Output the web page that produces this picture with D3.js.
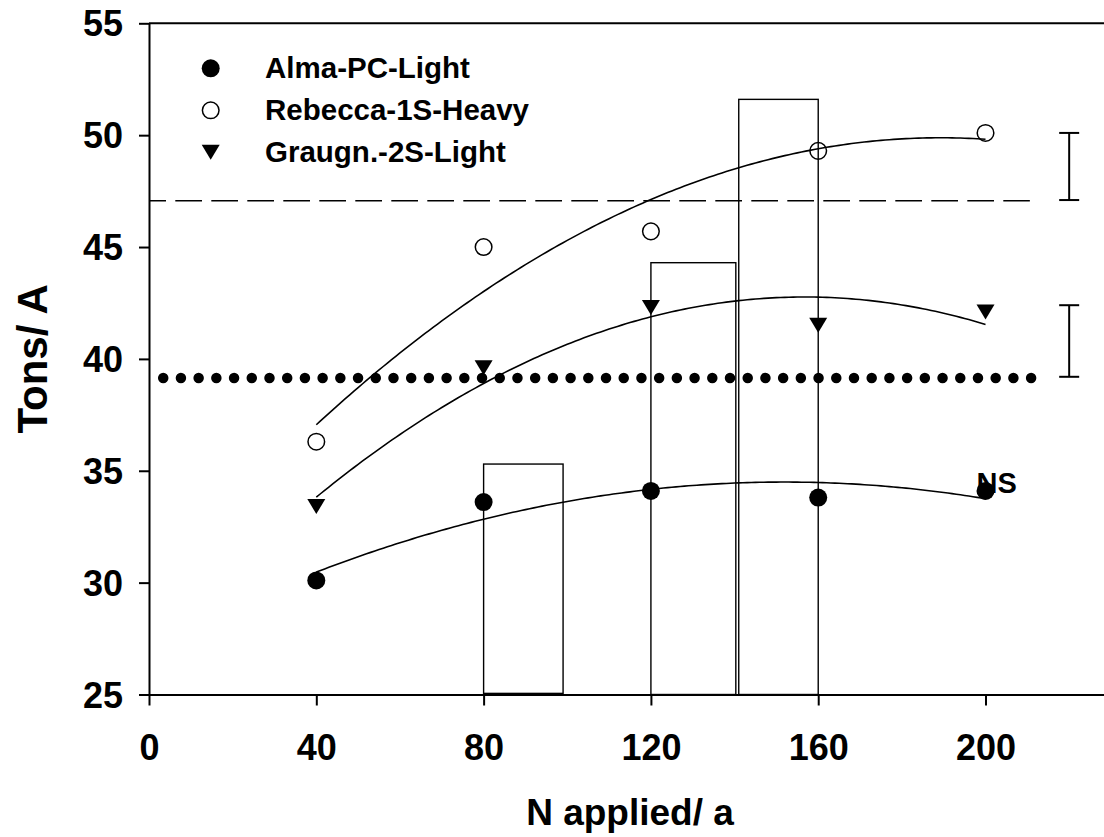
<!DOCTYPE html>
<html>
<head>
<meta charset="utf-8">
<script src="https://cdn.jsdelivr.net/npm/d3@7"></script>
<style>
  html, body { margin: 0; padding: 0; background: #fff; }
  svg { display: block; }
  text { font-family: "Liberation Sans", Arial, Helvetica, sans-serif; font-weight: bold; fill: #000; }
</style>
</head>
<body>
<svg id="chart" width="1104" height="837"></svg>
<script>
// ---------------- data ----------------
const xTicks = [0, 40, 80, 120, 160, 200];
const yTicks = [25, 30, 35, 40, 45, 50, 55];
const nRates = [40, 80, 120, 160, 200];
const seriesNames = ["Alma-PC-Light", "Rebecca-1S-Heavy", "Graugn.-2S-Light"];
const almaValues = [30.1, 33.6, 34.1, 33.8, 34.1];
const rebeccaValues = [36.3, 45.0, 45.7, 49.3, 50.1];
const graugnValues = [33.4, 39.6, 42.3, 41.5, 42.1];
const barStart = [80, 120, 141];
const barEnd = [99, 140.3, 160];
const barBase = [25.05, 25, 25];
const barTop = [35.3, 44.3, 51.6];
const dashedRefValue = 47.07;
const dottedRefValue = 39.15;
const errorBarX = 220;
const errorLow = [47.1, 39.2];
const errorHigh = [50.1, 42.4];
const nsLabel = "NS";

// ---------------- layout ----------------
const svg = d3.select("#chart");
const x = d3.scaleLinear().domain([0, 230]).range([149, 1111]);
const y = d3.scaleLinear().domain([25, 55]).range([694.5, 23.3]);
const FONT_TICK = 36;

// least-squares quadratic fit from the data
function quadFit(xs, ys) {
  let s = [0,0,0,0,0], t = [0,0,0];
  xs.forEach((xi, i) => {
    for (let k = 0; k < 5; k++) s[k] += Math.pow(xi, k);
    for (let k = 0; k < 3; k++) t[k] += Math.pow(xi, k) * ys[i];
  });
  const A = [[s[0], s[1], s[2], t[0]], [s[1], s[2], s[3], t[1]], [s[2], s[3], s[4], t[2]]];
  for (let i = 0; i < 3; i++) {
    let p = i;
    for (let r = i + 1; r < 3; r++) if (Math.abs(A[r][i]) > Math.abs(A[p][i])) p = r;
    [A[i], A[p]] = [A[p], A[i]];
    for (let r = 0; r < 3; r++) {
      if (r === i) continue;
      const f = A[r][i] / A[i][i];
      for (let c = i; c < 4; c++) A[r][c] -= f * A[i][c];
    }
  }
  const c = [A[0][3] / A[0][0], A[1][3] / A[1][1], A[2][3] / A[2][2]];
  return v => c[0] + c[1] * v + c[2] * v * v;
}

// ---------------- bars ----------------
svg.append("g").selectAll("rect")
  .data(barTop.map((t, i) => ({ s: barStart[i], e: barEnd[i], b: barBase[i], t })))
  .join("rect")
  .attr("x", d => x(d.s))
  .attr("width", d => x(d.e) - x(d.s))
  .attr("y", d => y(d.t))
  .attr("height", d => y(d.b) - y(d.t))
  .attr("fill", "none")
  .attr("stroke", "#000")
  .attr("stroke-width", 1.4);

// ---------------- reference lines ----------------
svg.append("line")
  .attr("x1", x(0)).attr("x2", x(210.6))
  .attr("y1", y(dashedRefValue)).attr("y2", y(dashedRefValue))
  .attr("stroke", "#000").attr("stroke-width", 1.5)
  .attr("stroke-dasharray", "26.7 9.3")
  .attr("stroke-dashoffset", 9.7);

const dotX1 = x(3.4), dotX2 = x(210.9);
svg.append("line")
  .attr("x1", dotX1).attr("x2", dotX2)
  .attr("y1", y(dottedRefValue)).attr("y2", y(dottedRefValue))
  .attr("stroke", "#000").attr("stroke-width", 10.5)
  .attr("stroke-linecap", "round")
  .attr("stroke-dasharray", `0 ${(dotX2 - dotX1) / 49}`);

// ---------------- error bars ----------------
const eg = svg.append("g").attr("stroke", "#000").attr("stroke-width", 2);
errorLow.forEach((lo, i) => {
  const hi = errorHigh[i];
  eg.append("line").attr("x1", x(errorBarX)).attr("x2", x(errorBarX)).attr("y1", y(lo)).attr("y2", y(hi));
  eg.append("line").attr("x1", x(errorBarX) - 10).attr("x2", x(errorBarX) + 10).attr("y1", y(lo)).attr("y2", y(lo));
  eg.append("line").attr("x1", x(errorBarX) - 10).attr("x2", x(errorBarX) + 10).attr("y1", y(hi)).attr("y2", y(hi));
});

// ---------------- fitted curves ----------------
const allSeries = [almaValues, rebeccaValues, graugnValues];
const line = d3.line().x(d => x(d[0])).y(d => y(d[1])).curve(d3.curveLinear);
allSeries.forEach(vals => {
  const f = quadFit(nRates, vals);
  const pts = d3.range(40, 200.01, 1).map(v => [v, f(v)]);
  svg.append("path").attr("d", line(pts))
    .attr("fill", "none").attr("stroke", "#000").attr("stroke-width", 1.6);
});

// ---------------- markers ----------------
const triPath = "M-9,-7.5L9,-7.5L0,7.5Z";
function drawMarker(g, kind, cx, cy) {
  if (kind === 0) {
    g.append("circle").attr("cx", cx).attr("cy", cy).attr("r", 9).attr("fill", "#000");
  } else if (kind === 1) {
    g.append("circle").attr("cx", cx).attr("cy", cy).attr("r", 8.3)
      .attr("fill", "none").attr("stroke", "#000").attr("stroke-width", 1.5);
  } else {
    g.append("path").attr("d", triPath).attr("transform", `translate(${cx},${cy})`).attr("fill", "#000");
  }
}
const mg = svg.append("g");
allSeries.forEach((vals, k) => {
  vals.forEach((v, i) => drawMarker(mg, k, x(nRates[i]), y(v)));
});

// NS annotation
svg.append("text").attr("x", x(200) - 9).attr("y", y(almaValues[4]) + 2)
  .attr("font-size", 29).text(nsLabel);

// ---------------- axes ----------------
const xAxis = svg.append("g").attr("transform", `translate(0,${y(25)})`)
  .call(d3.axisBottom(x).tickValues(xTicks).tickSize(11).tickSizeOuter(0).tickFormat(d3.format("d")));
xAxis.selectAll("text").attr("y", 65.5).attr("dy", 0).attr("font-size", FONT_TICK)
  .style("font-family", "'Liberation Sans', Arial, sans-serif").style("font-weight", "bold");
const yAxis = svg.append("g").attr("transform", `translate(${x(0)},0)`)
  .call(d3.axisLeft(y).tickValues(yTicks).tickSize(10).tickSizeOuter(0).tickFormat(d3.format("d")));
yAxis.selectAll("text").attr("x", -26).attr("y", 12.5).attr("dy", 0).attr("font-size", FONT_TICK)
  .style("font-family", "'Liberation Sans', Arial, sans-serif").style("font-weight", "bold");
[xAxis, yAxis].forEach(a => {
  a.selectAll("path, line").attr("stroke", "#000").attr("stroke-width", 2);
  a.selectAll("text").attr("fill", "#000");
});
// top frame line
svg.append("line").attr("x1", x(0)).attr("x2", x(230)).attr("y1", y(55)).attr("y2", y(55))
  .attr("stroke", "#000").attr("stroke-width", 2);

// axis titles
svg.append("text").attr("x", (x(0) + x(230)) / 2).attr("y", 825)
  .attr("text-anchor", "middle").attr("font-size", 37).text("N applied/ a");
svg.append("text").attr("transform", `translate(47,${(y(25) + y(55)) / 2}) rotate(-90)`)
  .attr("text-anchor", "middle").attr("font-size", 42).text("Tons/ A");

// ---------------- legend ----------------
const lg = svg.append("g");
seriesNames.forEach((name, k) => {
  const cy = 68.3 + k * 42;
  drawMarker(lg, k, 210.7, cy);
  lg.append("text").attr("x", 265).attr("y", cy + 10).attr("font-size", 29.5).text(name);
});
</script>
</body>
</html>
